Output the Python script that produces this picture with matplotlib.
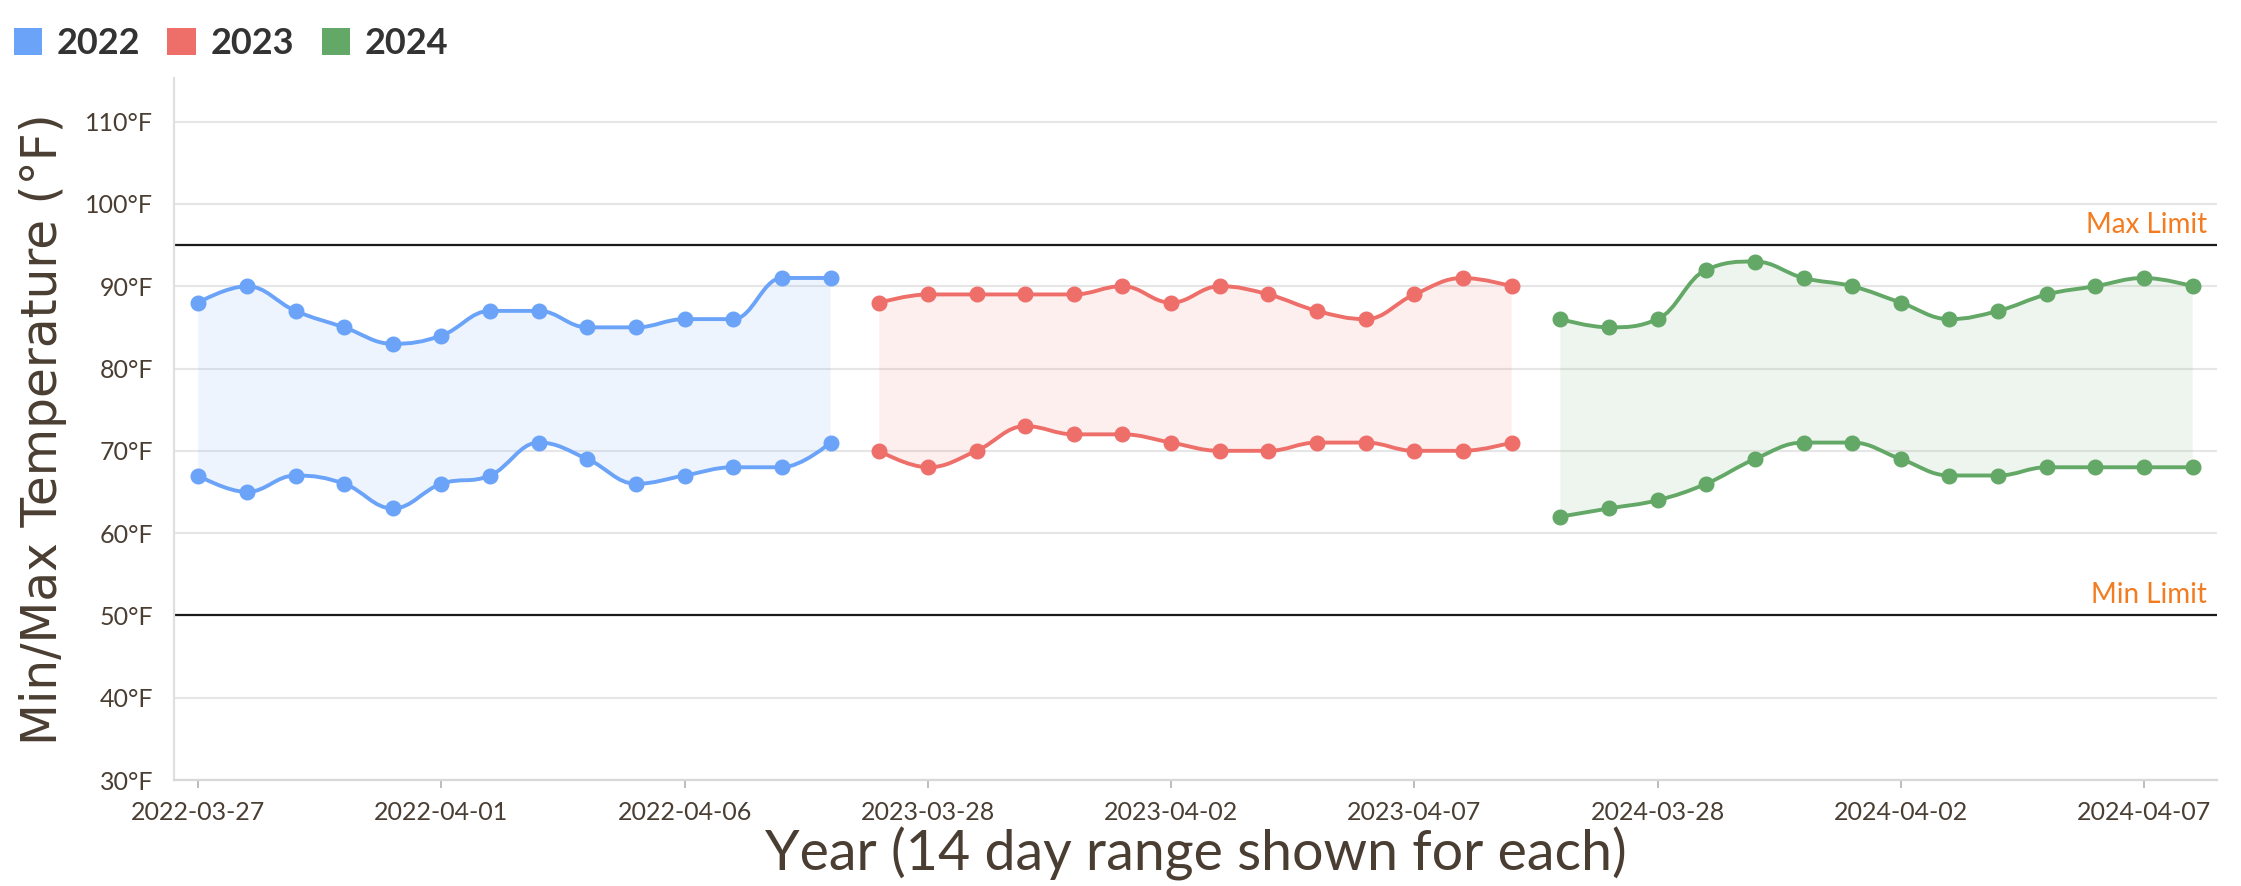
import matplotlib
matplotlib.use("Agg")
import matplotlib.pyplot as plt
import matplotlib.patches as mpatches
from matplotlib.path import Path
import pandas as pd

# Кадры по 14 дней для каждого года
years = ["2022", "2023", "2024"]
start_dates = ["2022-03-27", "2023-03-27", "2024-03-26"]
days_per_year = 14

max_2022 = [88, 90, 87, 85, 83, 84, 87, 87, 85, 85, 86, 86, 91, 91]
min_2022 = [67, 65, 67, 66, 63, 66, 67, 71, 69, 66, 67, 68, 68, 71]
max_2023 = [88, 89, 89, 89, 89, 90, 88, 90, 89, 87, 86, 89, 91, 90]
min_2023 = [70, 68, 70, 73, 72, 72, 71, 70, 70, 71, 71, 70, 70, 71]
max_2024 = [86, 85, 86, 92, 93, 91, 90, 88, 86, 87, 89, 90, 91, 90]
min_2024 = [62, 63, 64, 66, 69, 71, 71, 69, 67, 67, 68, 68, 68, 68]

max_limit = 95
min_limit = 50

colors = ["#6aa3f8", "#ee6e6a", "#63a866"]
text_color = "#4a3e33"

categories = []
for d in start_dates:
    categories += [x.strftime("%Y-%m-%d") for x in pd.date_range(d, periods=days_per_year)]

series_max = [max_2022, max_2023, max_2024]
series_min = [min_2022, min_2023, min_2024]


def spline_verts(xs, ys, smoothing=1.5):
    # контрольные точки как у сплайна Highcharts
    den = smoothing + 1
    n = len(xs)
    left = [(xs[i], ys[i]) for i in range(n)]
    right = [(xs[i], ys[i]) for i in range(n)]
    for i in range(1, n - 1):
        px, py = xs[i], ys[i]
        lx, ly = xs[i - 1], ys[i - 1]
        nx, ny = xs[i + 1], ys[i + 1]
        lcx = (smoothing * px + lx) / den
        lcy = (smoothing * py + ly) / den
        rcx = (smoothing * px + nx) / den
        rcy = (smoothing * py + ny) / den
        if rcx != lcx:
            corr = ((rcy - lcy) * (rcx - px)) / (rcx - lcx) + py - rcy
            lcy += corr
            rcy += corr
        if lcy > ly and lcy > py:
            lcy = max(ly, py)
            rcy = 2 * py - lcy
        elif lcy < ly and lcy < py:
            lcy = min(ly, py)
            rcy = 2 * py - lcy
        if rcy > ny and rcy > py:
            rcy = max(ny, py)
            lcy = 2 * py - rcy
        elif rcy < ny and rcy < py:
            rcy = min(ny, py)
            lcy = 2 * py - rcy
        left[i] = (lcx, lcy)
        right[i] = (rcx, rcy)
    verts = [(xs[0], ys[0])]
    for i in range(1, n):
        verts += [right[i - 1], left[i], (xs[i], ys[i])]
    return verts


fig = plt.figure(figsize=(22.41, 8.86), dpi=100)
ax = fig.add_axes([0.0776, 0.1196, 0.9117, 0.7924])

for k in range(len(years)):
    xs = list(range(k * days_per_year, (k + 1) * days_per_year))
    top = spline_verts(xs, series_max[k])
    bot = spline_verts(xs, series_min[k])

    # заливка между мин и макс
    fill_verts = top + bot[::-1] + [top[0]]
    fill_codes = ([Path.MOVETO] + [Path.CURVE4] * (len(top) - 1) + [Path.LINETO]
                  + [Path.CURVE4] * (len(bot) - 1) + [Path.CLOSEPOLY])
    ax.add_patch(mpatches.PathPatch(Path(fill_verts, fill_codes), facecolor=colors[k],
                                    alpha=0.11, edgecolor="none", zorder=1))

    for verts, vals in [(top, series_max[k]), (bot, series_min[k])]:
        codes = [Path.MOVETO] + [Path.CURVE4] * (len(verts) - 1)
        ax.add_patch(mpatches.PathPatch(Path(verts, codes), facecolor="none",
                                        edgecolor=colors[k], lw=2.8, zorder=3))
        ax.plot(xs, vals, "o", color=colors[k], markersize=10.5, zorder=4)

# Линии пределов
ax.axhline(max_limit, color="#1a1a1a", lw=1.6, zorder=2)
ax.axhline(min_limit, color="#1a1a1a", lw=1.6, zorder=2)
ax.text(41.3, max_limit + 0.9, "Max Limit", ha="right", va="bottom", color="#f47c20",
        fontsize=20, family="Lato")
ax.text(41.3, min_limit + 0.9, "Min Limit", ha="right", va="bottom", color="#f47c20",
        fontsize=20, family="Lato")

ax.set_xlim(-0.5, len(categories) - 0.5)
ax.set_ylim(30, 115.3)

yticks = list(range(30, 111, 10))
ax.set_yticks(yticks)
ax.set_yticklabels([f"{t}°F" for t in yticks])
xt = list(range(0, len(categories), 5))
ax.set_xticks(xt)
ax.set_xticklabels([categories[i] for i in xt])

ax.grid(axis="y", color="#e6e6e6", lw=1.5, zorder=0)
ax.set_axisbelow(True)
for s in ["top", "right"]:
    ax.spines[s].set_visible(False)
ax.spines["left"].set_color("#e0e0e0")
ax.spines["left"].set_linewidth(1.6)
ax.spines["bottom"].set_color("#d8d8d8")
ax.spines["bottom"].set_linewidth(1.6)

ax.tick_params(axis="y", length=0, pad=15, labelsize=18, labelcolor=text_color)
ax.tick_params(axis="x", length=6, width=1.2, color="#b0b0b0", pad=9, labelsize=18,
               labelcolor=text_color)
for lab in ax.get_xticklabels() + ax.get_yticklabels():
    lab.set_family("Lato")

ax.set_ylabel("Min/Max Temperature (°F)", fontsize=35, color=text_color,
              family="DejaVu Sans", labelpad=13)
ax.set_xlabel("Year (14 day range shown for each)", fontsize=40, color=text_color,
              family="Lato", labelpad=2)

handles = [mpatches.Patch(facecolor=c, edgecolor="none", label=y) for c, y in zip(colors, years)]
leg = fig.legend(handles=handles, loc="upper left", bbox_to_anchor=(-0.002, 0.99), ncol=3,
                 frameon=False, prop={"family": "Lato", "weight": "bold", "size": 26},
                 handlelength=0.8, handleheight=0.8, handletextpad=0.4, columnspacing=0.75,
                 borderaxespad=0.3, borderpad=0.2)
for t in leg.get_texts():
    t.set_color("#333333")

fig.savefig("out.png", dpi=100)
